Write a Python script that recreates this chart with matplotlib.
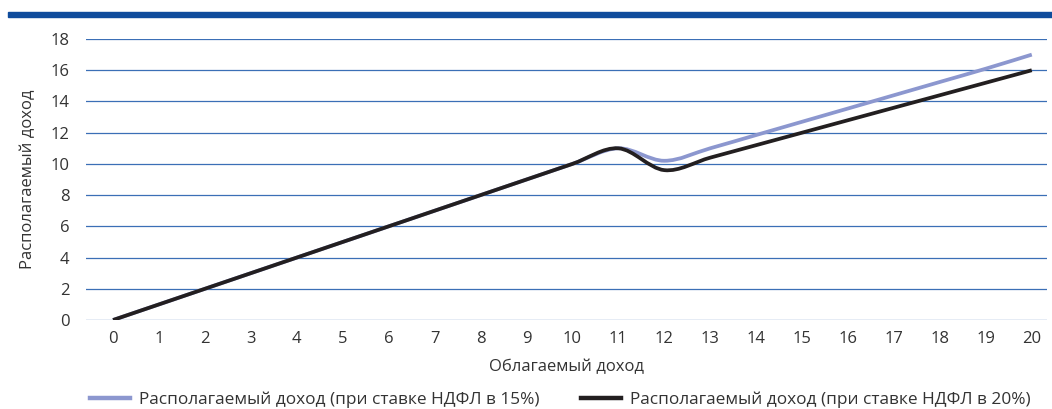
import matplotlib.pyplot as plt
from matplotlib.path import Path
from matplotlib.patches import PathPatch, Rectangle
from matplotlib.lines import Line2D
import numpy as np

plt.rcParams['font.family'] = ['Open Sans', 'DejaVu Sans']

x = list(range(21))
income_15 = [0, 1, 2, 3, 4, 5, 6, 7, 8, 9, 10, 11, 10.2, 11.0, 11.85, 12.7, 13.55, 14.4, 15.25, 16.1, 17.0]
income_20 = [0, 1, 2, 3, 4, 5, 6, 7, 8, 9, 10, 11, 9.6, 10.4, 11.2, 12.0, 12.8, 13.6, 14.4, 15.2, 16.0]
y_ticks = [0, 2, 4, 6, 8, 10, 12, 14, 16, 18]

label_15 = "Располагаемый доход (при ставке НДФЛ в 15%)"
label_20 = "Располагаемый доход (при ставке НДФЛ в 20%)"
blue = "#8c97cf"
black = "#231f20"
grid_col = "#3b6fb6"


def smooth_path(xs, ys):
    # Excel-like smoothed line: Bezier through every point
    p = np.column_stack([xs, ys]).astype(float)
    verts = [p[0]]
    codes = [Path.MOVETO]
    n = len(p)
    for i in range(n - 1):
        p0 = p[max(i - 1, 0)]
        p1 = p[i]
        p2 = p[i + 1]
        p3 = p[min(i + 2, n - 1)]
        c1 = p1 + (p2 - p0) / 6
        c2 = p2 - (p3 - p1) / 6
        verts += [c1, c2, p2]
        codes += [Path.CURVE4] * 3
    return Path(verts, codes)


fig = plt.figure(figsize=(10.52, 4.09), dpi=100)
ax = fig.add_axes([0.0817, 0.2176, 0.9135, 0.687])

fig.patches.append(Rectangle((0.0076, 0.958), 0.9924, 0.013, transform=fig.transFigure,
                             color="#0f4c9c", zorder=5))

for s, c in [(income_15, blue), (income_20, black)]:
    ax.add_patch(PathPatch(smooth_path(x, s), facecolor="none", edgecolor=c, lw=2.7,
                           capstyle="butt", joinstyle="round", zorder=3))

ax.set_xlim(-0.59, 20.33)
ax.set_ylim(0, 18)
ax.set_xticks(x)
ax.set_yticks(y_ticks)
ax.grid(axis="y", color=grid_col, lw=0.9)
ax.set_axisbelow(True)
for sp in ax.spines.values():
    sp.set_visible(False)
ax.tick_params(length=0, labelsize=12, labelcolor="#333333")
ax.tick_params(axis="x", pad=8)
ax.tick_params(axis="y", pad=12)
ax.set_xlabel("Облагаемый доход", fontsize=12, color="#333333", labelpad=9)
ax.set_ylabel("Располагаемый доход", fontsize=12, color="#333333", labelpad=10)

handles = [Line2D([], [], color=blue, lw=3.2), Line2D([], [], color=black, lw=3.2)]
fig.legend(handles, [label_15, label_20], loc="center", bbox_to_anchor=(0.533, 0.022),
           ncol=2, frameon=False, fontsize=12.4, handlelength=2.3, handletextpad=0.55,
           columnspacing=2.4, labelcolor="#333333")

fig.savefig("out.png", dpi=100)
